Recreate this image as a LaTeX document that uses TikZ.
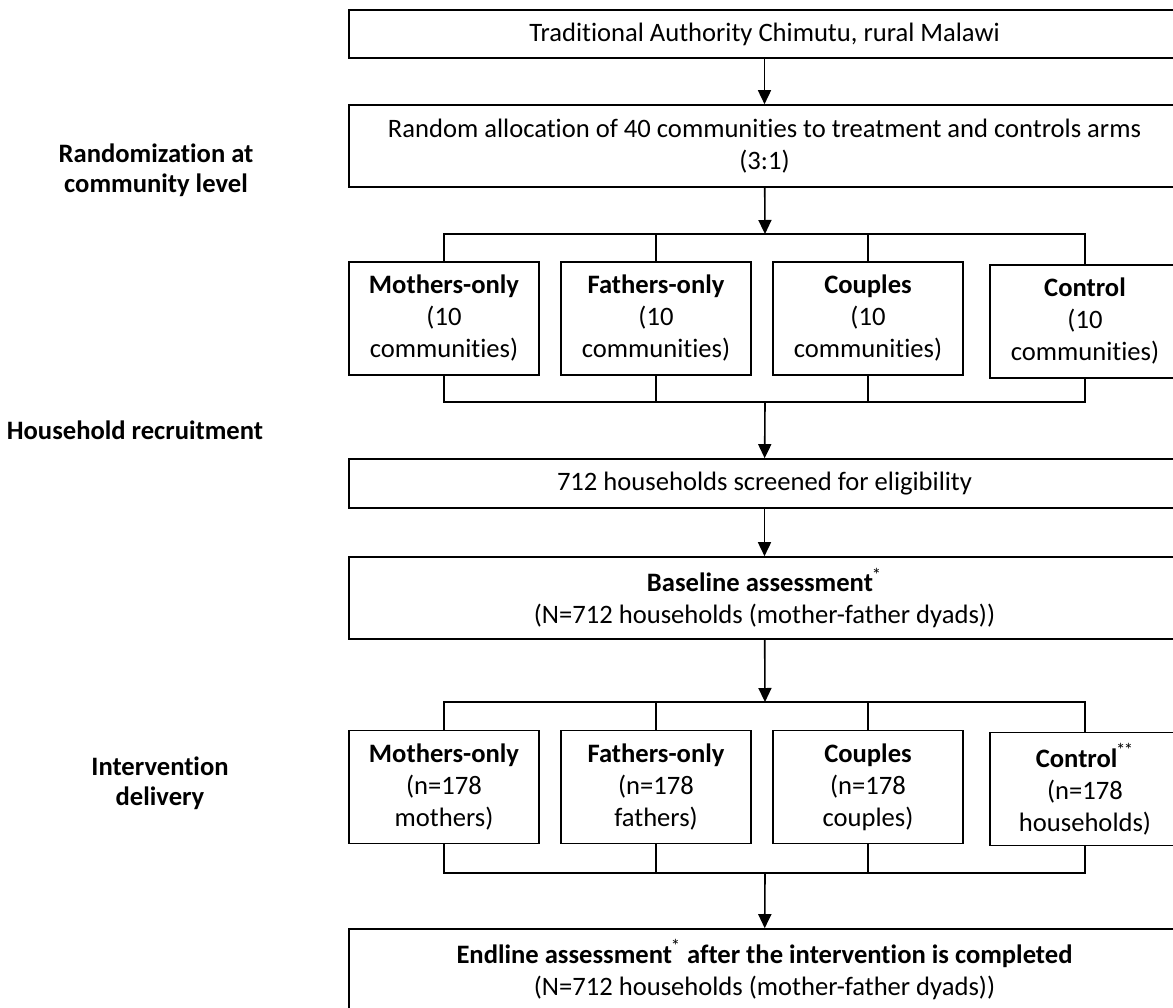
\documentclass[tikz,border=0pt]{standalone}
\usepackage{fontspec}
\setmainfont{Carlito}[Ligatures=NoCommon]
\usetikzlibrary{arrows.meta}
\newcommand{\starmark}[1]{\kern-0.6pt\textsuperscript{#1}}

\begin{document}
\begin{tikzpicture}[x=0.5pt,y=-0.5pt,>={Triangle[length=7pt,width=6.5pt]},line width=0.8pt,
    every node/.style={font=\fontsize{13.3}{16}\selectfont},
    box/.style={draw,align=center,inner sep=0pt},
    wide/.style={box,minimum width=415.5pt},
    arm/.style={box,minimum width=95pt,minimum height=56.5pt},
    side/.style={align=center,font=\fontsize{13.3}{15}\selectfont\bfseries}]
    \useasboundingbox (0,0) rectangle (1173,1007);
    % stage labels
    \node[side] (lrand) at (156,170) {Randomization at\\community level};
    \node[side] (lhouse) at (135,430) {Household recruitment};
    \node[side] (lint) at (160,783) {Intervention\\delivery};
    % main column
    \node[wide, minimum height=24pt] (site) at (764.5,34) {Traditional Authority Chimutu, rural Malawi};
    \node[wide, minimum height=41pt] (alloc) at (764.5,146) {Random allocation of 40 communities to treatment and controls arms\\(3:1)};
    \node[arm] (m1) at (444,318.5) {\textbf{Mothers-only}\\(10\\communities)};
    \node[arm] (f1) at (656,318.5) {\textbf{Fathers-only}\\(10\\communities)};
    \node[arm] (c1) at (868,318.5) {\textbf{Couples}\\(10\\communities)};
    \node[arm] (k1) at (1085,321.5) {\textbf{Control}\\(10\\communities)};
    \node[wide, minimum height=24.5pt] (screen) at (764.5,483.5) {712 households screened for eligibility};
    \node[wide, minimum height=41pt] (base) at (764.5,598) {\textbf{Baseline assessment}\starmark{*}\\(N=712 households (mother-father dyads))};
    \node[arm] (m2) at (444,787) {\textbf{Mothers-only}\\(n=178\\mothers)};
    \node[arm] (f2) at (656,787) {\textbf{Fathers-only}\\(n=178\\fathers)};
    \node[arm] (c2) at (868,787) {\textbf{Couples}\\(n=178\\couples)};
    \node[arm] (k2) at (1085,789) {\textbf{Control}\starmark{*\kern-0.8pt*}\\(n=178\\households)};
    \node[wide, minimum height=40.5pt] (end) at (764.5,969.5) {\textbf{Endline assessment}\starmark{*} \textbf{after the intervention is completed}\\(N=712 households (mother-father dyads))};
    % split and merge points
    \coordinate (split1) at (765,234);
    \coordinate (merge1) at (765,402);
    \coordinate (split2) at (765,702);
    \coordinate (merge2) at (765,873);
    % connectors
    \draw[->] (site) -- (alloc);
    \draw[->] (alloc) -- (split1);
    \draw (m1.north) |- (split1) -| (k1.north);
    \draw (f1.north) -- (f1.north |- split1);
    \draw (c1.north) -- (c1.north |- split1);
    \draw (m1.south) |- (merge1) -| (k1.south);
    \draw (f1.south) -- (f1.south |- merge1);
    \draw (c1.south) -- (c1.south |- merge1);
    \draw[->] (merge1) -- (screen);
    \draw[->] (screen) -- (base);
    \draw[->] (base) -- (split2);
    \draw (m2.north) |- (split2) -| (k2.north);
    \draw (f2.north) -- (f2.north |- split2);
    \draw (c2.north) -- (c2.north |- split2);
    \draw (m2.south) |- (merge2) -| (k2.south);
    \draw (f2.south) -- (f2.south |- merge2);
    \draw (c2.south) -- (c2.south |- merge2);
    \draw[->] (merge2) -- (end);
\end{tikzpicture}
\end{document}
